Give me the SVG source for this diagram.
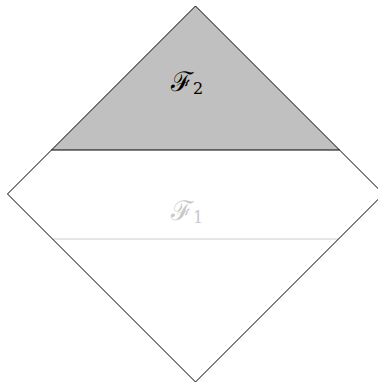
<svg xmlns="http://www.w3.org/2000/svg" width="378" height="383" viewBox="0 0 378 383">
<style>
.edge{fill:none;stroke:#000;stroke-width:1}
.lbl{font-family:"DejaVu Serif","Liberation Serif",serif;font-size:27px}
.sub{font-family:"DejaVu Serif","Liberation Serif",serif;font-size:16px}
</style>
<rect width="378" height="383" fill="#fff"/>
<g id="region-F2">
<polygon points="195.5,6 339.5,150 51.5,150" fill="#c0c0c0" stroke="none"/>
<text x="171" y="91" class="lbl">ℱ</text><text x="193" y="94" class="sub">2</text>
</g>
<g id="region-F1">
<line x1="52.5" y1="239" x2="338.5" y2="239" stroke="#cccccc" stroke-width="1"/>
<text x="171" y="220" class="lbl" fill="#c8c8c8">ℱ</text><text x="193" y="223" class="sub" fill="#c8c8c8">1</text>
</g>
<g id="connectors">
<polygon class="edge" points="195.5,6 383.5,194 195.5,382 7.5,194"/>
<line class="edge" x1="51.5" y1="150" x2="339.5" y2="150"/>
</g>
</svg>
